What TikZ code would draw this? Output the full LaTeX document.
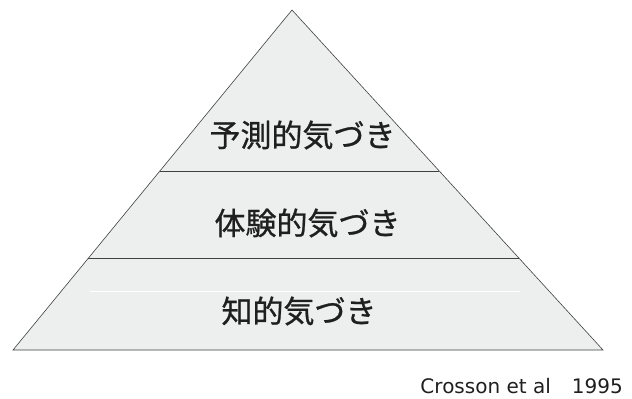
\documentclass[tikz,border=0pt]{standalone}
\usepackage{fontspec}
\usetikzlibrary{calc}
\setmainfont{DejaVu Sans}
\newfontfamily\cjk[FakeBold=0.8]{Noto Sans CJK JP}
\definecolor{pyrfill}{HTML}{EDEEEE}
\definecolor{pyrline}{HTML}{404040}
\begin{document}
\begin{tikzpicture}[x=1pt,y=-1pt,
  edge/.style={draw=pyrline,line width=0.8pt},
  lvl/.style={font=\cjk\fontsize{31}{34}\selectfont,text=black!88,inner sep=0pt,anchor=center},
  cite/.style={font=\fontsize{20}{24}\selectfont,text=black!88,inner sep=0pt,anchor=base east}]
\useasboundingbox (0,0) rectangle (632,399);
\coordinate (apex) at (292,10);
\coordinate (bl) at (13,350);
\coordinate (br) at (603,350);
\fill[pyrfill] (apex) -- (bl) -- (br) -- cycle;
\coordinate (l1) at ($(apex)!{161/340}!(bl)$);
\coordinate (r1) at ($(apex)!{161/340}!(br)$);
\coordinate (l2) at ($(apex)!{248/340}!(bl)$);
\coordinate (r2) at ($(apex)!{248/340}!(br)$);
\draw[white,line width=0.8pt] (90,291) -- (520,291);
\draw[edge] (l1) -- (r1);
\draw[edge] (l2) -- (r2);
\draw[edge,line width=0.6pt] (apex) -- (bl) -- (br) -- cycle;
\node[lvl] (top) at (302.5,135) {予測的気づき};
\node[lvl] (mid) at (307.5,223) {体験的気づき};
\node[lvl] (bot) at (299,311) {知的気づき};
\node[cite] (src) at (623,393) {Crosson et al\hspace{1.05em}1995};
\end{tikzpicture}
\end{document}
